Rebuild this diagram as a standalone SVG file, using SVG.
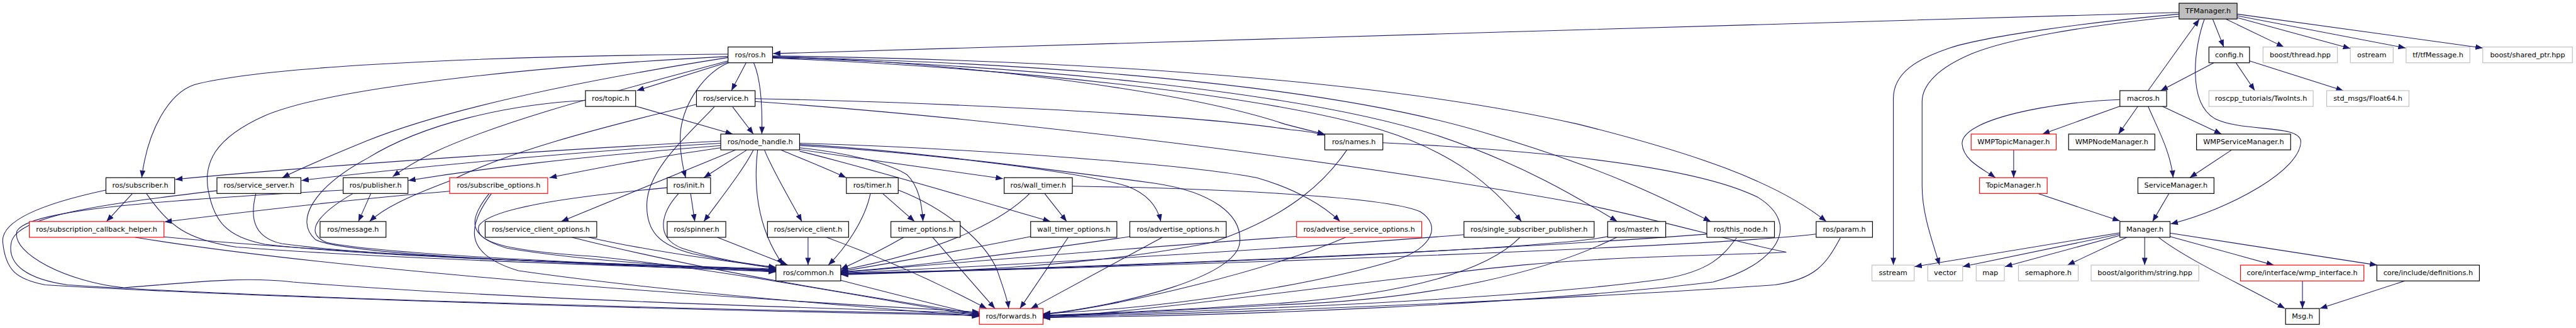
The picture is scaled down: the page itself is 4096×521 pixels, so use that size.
<svg xmlns="http://www.w3.org/2000/svg" width="4096" height="521" viewBox="0 0 4096 521">
<defs>
<marker id="a" markerUnits="userSpaceOnUse" markerWidth="14" markerHeight="12" refX="13" refY="5" orient="auto"><path d="M0,0L13,5L0,10z" fill="#191970"/></marker>
<style>
.n rect{fill:#fff;stroke:#000;stroke-width:1.3}
.n.g rect{stroke:#bfbfbf}
.n.r rect{stroke:#f00}
.n.t rect{fill:#bfbfbf}
text{font-family:"DejaVu Sans","Liberation Sans",sans-serif;font-size:12.6px;text-anchor:middle;fill:#000}
#edges path{fill:none;stroke:#191970;stroke-width:1.2;marker-end:url(#a)}
</style>
</defs>
<rect width="4096" height="521" fill="#fff"/>
<g transform="scale(0.896)">
<g id="edges">
<path d="M3867,22 C3300,40 1800,80 1372,95"/>
<path d="M3926.7,33.7 L3946.4,83.3"/>
<path d="M3950,33.7 L4053,83.3"/>
<path d="M3969,31 L4171,86"/>
<path d="M3970,28 L4269,85"/>
<path d="M3970,25 L4406,85"/>
<path d="M3867,25 C3700,40 3520,65 3460,85 C3400,105 3360,130 3360,175 L3360,470"/>
<path d="M3867,29 C3700,45 3560,70 3500,95 C3440,120 3411,150 3411,180 L3411,330 C3411,380 3430,430 3442,470"/>
<path d="M3912,34 C3895,80 3880,180 3930,210 C3980,235 4080,220 4083,250 C4085,300 3960,370 3852,397"/>
<path d="M3928.7,111.3 L3834.4,160.7"/>
<path d="M3968,111.3 L4001.4,160.7"/>
<path d="M3992,108 L4158.5,160.7"/>
<path d="M3812,160.7 L3903,34"/>
<path d="M3762,188.3 L3624.5,237.7"/>
<path d="M3794,188.3 L3759.5,237.7"/>
<path d="M3837,188.3 L3942.4,237.7"/>
<path d="M3812,188.3 C3830,230 3852,270 3856.5,315"/>
<path d="M3762,176.7 C3650,180 3480,210 3482,255 C3484,285 3520,300 3541,315"/>
<path d="M3573.5,266 L3573.5,315"/>
<path d="M3960,266 L3886,315"/>
<path d="M3617,343.3 L3762,391.7"/>
<path d="M3849,343.3 L3820,392.7"/>
<path d="M3762,412.7 L3397.6,472.7"/>
<path d="M3762,415 L3483,472.7"/>
<path d="M3762,417.3 L3558,472.7"/>
<path d="M3774,420.7 L3669,470"/>
<path d="M3806,420.7 L3806,470"/>
<path d="M3830.5,420.7 C3880,460 3990,510 4055,547"/>
<path d="M3851,419.3 L4035,470"/>
<path d="M3851,413.3 L4218.5,470"/>
<path d="M4086,498 L4086,547"/>
<path d="M4267.6,498 L4117,547"/>
<path d="M1292.4,110 L1130,160.7"/>
<path d="M1324,111.3 L1298,160.7"/>
<path d="M1337.6,111.3 C1350,140 1353,190 1352,237.7"/>
<path d="M1292.4,111.3 C1250,130 1215,180 1208,230 C1205,260 1210,290 1216.8,315"/>
<path d="M1292,96 C1000,98 500,110 345,150 C300,165 262,230 251.5,315"/>
<path d="M1292,102 C1050,140 800,190 650,250 C590,275 540,295 501,315"/>
<path d="M1292,108 C1100,160 900,210 770,270 C740,285 715,300 697,313"/>
<path d="M1292,100 C1000,115 600,150 470,205 C380,245 360,290 370,340 C380,390 400,420 470,433 C700,460 1200,470 1377,477"/>
<path d="M1371,100 C1700,110 2100,160 2280,220 C2310,228 2335,234 2351,238"/>
<path d="M1371,103 C1800,120 2250,170 2450,230 C2580,270 2650,330 2700,392.7"/>
<path d="M1371,102 C1800,115 2300,160 2550,240 C2700,290 2800,350 2870,392.7"/>
<path d="M1371,101 C1800,110 2350,145 2650,240 C2850,300 2950,350 3036,392.7"/>
<path d="M1371,99 C1800,105 2400,130 2800,220 C3000,270 3150,320 3241,392.7"/>
<path d="M1128.3,188.3 L1300.3,237.7"/>
<path d="M1039,178 C900,185 750,220 653,280 C560,330 520,390 560,425 C620,455 1100,470 1377,478"/>
<path d="M1300,189.3 L1337,237.7"/>
<path d="M1340,175 C1600,180 2100,200 2290,230 C2320,233 2340,236 2351,240"/>
<path d="M1236,185 C1050,230 900,270 800,320 C720,350 680,370 655.7,392.7"/>
<path d="M1268,189 C1220,240 1150,300 1148,360 C1146,410 1170,435 1230,450 C1300,465 1350,472 1377,476"/>
<path d="M1340,180 C1700,205 2300,270 2800,360 C2950,390 3080,430 3170,447 C3100,452 2900,452 2700,470 C2400,500 2100,545 1851,564"/>
<path d="M1279,250 C900,270 500,300 311,318"/>
<path d="M1279,254 C1000,270 700,300 535,320"/>
<path d="M1279,258 C1000,280 850,300 724.5,320"/>
<path d="M1279,262 C1150,280 1050,300 975,315"/>
<path d="M1305,266 L996,392.7"/>
<path d="M1325,266 L1249,315"/>
<path d="M1337,266 C1320,300 1280,350 1249,392.7"/>
<path d="M1356.7,266 C1370,300 1400,350 1423,392.7"/>
<path d="M1386,266 C1420,280 1470,300 1501.6,315"/>
<path d="M1419,262 C1500,270 1580,290 1610,310 C1630,330 1636,360 1638,392.7"/>
<path d="M1419,265 C1550,285 1700,305 1780,316.7"/>
<path d="M1419,268 C1550,300 1750,360 1864,392.7"/>
<path d="M1419,258 C1600,268 1900,300 2000,330 C2040,345 2055,370 2060,392.7"/>
<path d="M1419,254 C1700,262 2100,290 2230,315 C2300,335 2350,365 2378,392.7"/>
<path d="M1419,256 C1600,265 1900,305 2050,325 C2150,340 2205,380 2200,430 C2195,490 2000,540 1851,557"/>
<path d="M1344.5,266 C1338,320 1340,400 1390,470"/>
<path d="M234.8,343.3 L189,392.7"/>
<path d="M260,343.3 C300,400 330,425 420,438 C700,460 1200,474 1377,481"/>
<path d="M187.6,337 C80,360 0,390 5,430 C10,480 30,495 80,505 C500,530 1300,552 1738,559"/>
<path d="M454,343.3 C445,380 445,420 500,432 C700,460 1200,470 1377,479"/>
<path d="M385,338 C200,360 30,380 20,430 C12,470 50,495 120,505 C500,530 1300,550 1738,557"/>
<path d="M658,343.3 L636,392.7"/>
<path d="M626,343.3 C580,370 530,410 580,430 C700,455 1200,472 1377,480"/>
<path d="M609,337 C300,355 50,370 30,410 C20,450 120,500 220,510 C350,500 430,490 520,500 C900,530 1400,545 1738,555"/>
<path d="M798,339 C600,355 400,380 292,393.3"/>
<path d="M868,343.3 C830,390 830,420 900,440 C1050,465 1250,474 1377,480"/>
<path d="M872,343.3 C830,400 820,450 920,480 C1200,520 1550,545 1738,561"/>
<path d="M291,420 C600,450 1100,470 1377,482"/>
<path d="M240,420.7 C600,480 1300,530 1738,553"/>
<path d="M1045,420.7 C1150,445 1300,465 1377,474"/>
<path d="M1015,420.7 C1250,480 1500,520 1738,557"/>
<path d="M1225.6,343.3 L1233,392.7"/>
<path d="M1204,343.3 C1175,375 1160,420 1210,440 C1270,460 1330,468 1377,474"/>
<path d="M1184,332.7 C1000,350 870,370 850,400 C840,430 900,445 1060,455 C1300,480 1550,530 1738,560"/>
<path d="M1273,420.7 L1398,470"/>
<path d="M1434,420.7 L1434,470"/>
<path d="M1467,420.7 C1600,470 1700,520 1751,547"/>
<path d="M1566.7,343.3 L1623,392.7"/>
<path d="M1544.6,343.3 C1535,390 1500,440 1470,470"/>
<path d="M1593.7,336.7 C1680,370 1750,430 1770,480 C1780,510 1788,530 1790,547"/>
<path d="M1603.5,420.7 C1570,440 1530,460 1492,477"/>
<path d="M1655,420.7 L1765.6,547"/>
<path d="M1854,343.3 L1893,392.7"/>
<path d="M1827,343.3 C1790,380 1700,440 1492,479"/>
<path d="M1903,330 C2100,333 2450,345 2520,375 C2560,400 2540,440 2480,460 C2350,500 2100,545 1851,556"/>
<path d="M1829,419.3 C1700,445 1560,470 1492,481"/>
<path d="M1895.7,420.7 L1810,547"/>
<path d="M2005,419.3 C1800,450 1600,475 1492,482"/>
<path d="M2062.7,420.7 L1829.4,547"/>
<path d="M2300.6,419 C2000,440 1650,470 1492,483"/>
<path d="M2388,420.7 C2250,480 2000,540 1851,558"/>
<path d="M2597.7,416 C2300,440 1800,470 1492,484"/>
<path d="M2697.5,420.7 C2640,480 2500,520 2280,537 C2100,550 1950,556 1851,559"/>
<path d="M2852.6,419.3 C2780,435 2400,455 2000,470 C1800,478 1600,482 1492,485"/>
<path d="M2869,420.7 C2750,480 2550,530 2280,540 C2100,550 1950,557 1851,560"/>
<path d="M3029,415 C2700,440 2100,470 1492,485"/>
<path d="M3081.7,421.7 C3060,450 3040,480 2950,495 C2700,530 2200,550 1851,561"/>
<path d="M3223,415 C3100,430 2500,460 1492,486"/>
<path d="M3266,421.7 C3240,470 3220,495 3150,505 C2800,530 2200,555 1851,562"/>
<path d="M2390,266 C2360,310 2300,380 2150,430 C1950,470 1700,482 1492,487"/>
<path d="M2454,253 C2700,265 3000,290 3120,350 C3200,400 3150,470 3040,500 C2700,540 2200,560 1851,563"/>
<path d="M1492,497 C1600,525 1680,545 1738,558"/>
</g>
<g id="n-TFManager" class="n t"><rect x="3867" y="5.7" width="103" height="28"/><text x="3918.5" y="23.7">TFManager.h</text></g>
<g id="n-ros" class="n"><rect x="1292" y="83.3" width="79" height="28"/><text x="1331.5" y="101.3">ros/ros.h</text></g>
<g id="n-config" class="n"><rect x="3920" y="83.3" width="72" height="28"/><text x="3956" y="101.3">config.h</text></g>
<g id="n-bthread" class="n g"><rect x="4016" y="83.3" width="132" height="28"/><text x="4082" y="101.3">boost/thread.hpp</text></g>
<g id="n-ostream" class="n g"><rect x="4171" y="83.3" width="76" height="28"/><text x="4209" y="101.3">ostream</text></g>
<g id="n-tfmsg" class="n g"><rect x="4270" y="83.3" width="113" height="28"/><text x="4326.5" y="101.3">tf/tfMessage.h</text></g>
<g id="n-bshared" class="n g"><rect x="4406" y="83.3" width="159" height="28"/><text x="4485.5" y="101.3">boost/shared_ptr.hpp</text></g>
<g id="n-topic" class="n"><rect x="1039" y="160.7" width="89" height="28"/><text x="1083.5" y="178.7">ros/topic.h</text></g>
<g id="n-service" class="n"><rect x="1236" y="160.7" width="104" height="28"/><text x="1288" y="178.7">ros/service.h</text></g>
<g id="n-macros" class="n"><rect x="3762" y="160.7" width="83" height="28"/><text x="3803.5" y="178.7">macros.h</text></g>
<g id="n-twoints" class="n g"><rect x="3920" y="160.7" width="185" height="28"/><text x="4012.5" y="178.7">roscpp_tutorials/TwoInts.h</text></g>
<g id="n-float64" class="n g"><rect x="4129" y="160.7" width="146" height="28"/><text x="4202" y="178.7">std_msgs/Float64.h</text></g>
<g id="n-nodehandle" class="n"><rect x="1279" y="237.7" width="140" height="28"/><text x="1349" y="255.7">ros/node_handle.h</text></g>
<g id="n-names" class="n"><rect x="2351" y="237.7" width="103" height="28"/><text x="2402.5" y="255.7">ros/names.h</text></g>
<g id="n-wmptopic" class="n r"><rect x="3498" y="237.7" width="151" height="28"/><text x="3573.5" y="255.7">WMPTopicManager.h</text></g>
<g id="n-wmpnode" class="n"><rect x="3671" y="237.7" width="153" height="28"/><text x="3747.5" y="255.7">WMPNodeManager.h</text></g>
<g id="n-wmpservice" class="n"><rect x="3898" y="237.7" width="167" height="28"/><text x="3981.5" y="255.7">WMPServiceManager.h</text></g>
<g id="n-subscriber" class="n"><rect x="188" y="315" width="122" height="28"/><text x="249" y="333">ros/subscriber.h</text></g>
<g id="n-sserver" class="n"><rect x="385" y="315" width="149" height="28"/><text x="459.5" y="333">ros/service_server.h</text></g>
<g id="n-publisher" class="n"><rect x="609" y="315" width="115" height="28"/><text x="666.5" y="333">ros/publisher.h</text></g>
<g id="n-subopts" class="n r"><rect x="798" y="315" width="174" height="28"/><text x="885" y="333">ros/subscribe_options.h</text></g>
<g id="n-init" class="n"><rect x="1184" y="315" width="77" height="28"/><text x="1222.5" y="333">ros/init.h</text></g>
<g id="n-timer" class="n"><rect x="1502" y="315" width="92" height="28"/><text x="1548" y="333">ros/timer.h</text></g>
<g id="n-walltimer" class="n"><rect x="1782" y="315" width="121" height="28"/><text x="1842.5" y="333">ros/wall_timer.h</text></g>
<g id="n-topicmgr" class="n r"><rect x="3513" y="315" width="120" height="28"/><text x="3573" y="333">TopicManager.h</text></g>
<g id="n-servicemgr" class="n"><rect x="3794" y="315" width="135" height="28"/><text x="3861.5" y="333">ServiceManager.h</text></g>
<g id="n-sch" class="n r"><rect x="52" y="392.7" width="239" height="28"/><text x="171.5" y="410.7">ros/subscription_callback_helper.h</text></g>
<g id="n-message" class="n"><rect x="568" y="392.7" width="117" height="28"/><text x="626.5" y="410.7">ros/message.h</text></g>
<g id="n-sco" class="n"><rect x="861" y="392.7" width="198" height="28"/><text x="960" y="410.7">ros/service_client_options.h</text></g>
<g id="n-spinner" class="n"><rect x="1184" y="392.7" width="104" height="28"/><text x="1236" y="410.7">ros/spinner.h</text></g>
<g id="n-sclient" class="n"><rect x="1362" y="392.7" width="144" height="28"/><text x="1434" y="410.7">ros/service_client.h</text></g>
<g id="n-timeropts" class="n"><rect x="1581" y="392.7" width="123" height="28"/><text x="1642.5" y="410.7">timer_options.h</text></g>
<g id="n-wtopts" class="n"><rect x="1829" y="392.7" width="153" height="28"/><text x="1905.5" y="410.7">wall_timer_options.h</text></g>
<g id="n-advopts" class="n"><rect x="2005" y="392.7" width="171" height="28"/><text x="2090.5" y="410.7">ros/advertise_options.h</text></g>
<g id="n-advsvc" class="n r"><rect x="2301" y="392.7" width="222" height="28"/><text x="2412" y="410.7">ros/advertise_service_options.h</text></g>
<g id="n-ssp" class="n"><rect x="2598" y="392.7" width="231" height="28"/><text x="2713.5" y="410.7">ros/single_subscriber_publisher.h</text></g>
<g id="n-master" class="n"><rect x="2853" y="392.7" width="103" height="28"/><text x="2904.5" y="410.7">ros/master.h</text></g>
<g id="n-thisnode" class="n"><rect x="3029" y="392.7" width="120" height="28"/><text x="3089" y="410.7">ros/this_node.h</text></g>
<g id="n-param" class="n"><rect x="3223" y="392.7" width="100" height="28"/><text x="3273" y="410.7">ros/param.h</text></g>
<g id="n-manager" class="n"><rect x="3762" y="392.7" width="89" height="28"/><text x="3806.5" y="410.7">Manager.h</text></g>
<g id="n-common" class="n"><rect x="1377" y="470" width="115" height="28"/><text x="1434.5" y="488">ros/common.h</text></g>
<g id="n-sstream" class="n g"><rect x="3322" y="470" width="75" height="28"/><text x="3359.5" y="488">sstream</text></g>
<g id="n-vector" class="n g"><rect x="3421" y="470" width="62" height="28"/><text x="3452" y="488">vector</text></g>
<g id="n-map" class="n g"><rect x="3507" y="470" width="50" height="28"/><text x="3532" y="488">map</text></g>
<g id="n-semaphore" class="n g"><rect x="3582" y="470" width="106" height="28"/><text x="3635" y="488">semaphore.h</text></g>
<g id="n-bstring" class="n g"><rect x="3711" y="470" width="191" height="28"/><text x="3806.5" y="488">boost/algorithm/string.hpp</text></g>
<g id="n-wmpiface" class="n r"><rect x="3976" y="470" width="219" height="28"/><text x="4085.5" y="488">core/interface/wmp_interface.h</text></g>
<g id="n-defs" class="n"><rect x="4218" y="470" width="182" height="28"/><text x="4309" y="488">core/include/definitions.h</text></g>
<g id="n-forwards" class="n r"><rect x="1738" y="547" width="113" height="28"/><text x="1794.5" y="565">ros/forwards.h</text></g>
<g id="n-msg" class="n"><rect x="4056" y="547" width="60" height="28"/><text x="4086" y="565">Msg.h</text></g>
</g>
</svg>
